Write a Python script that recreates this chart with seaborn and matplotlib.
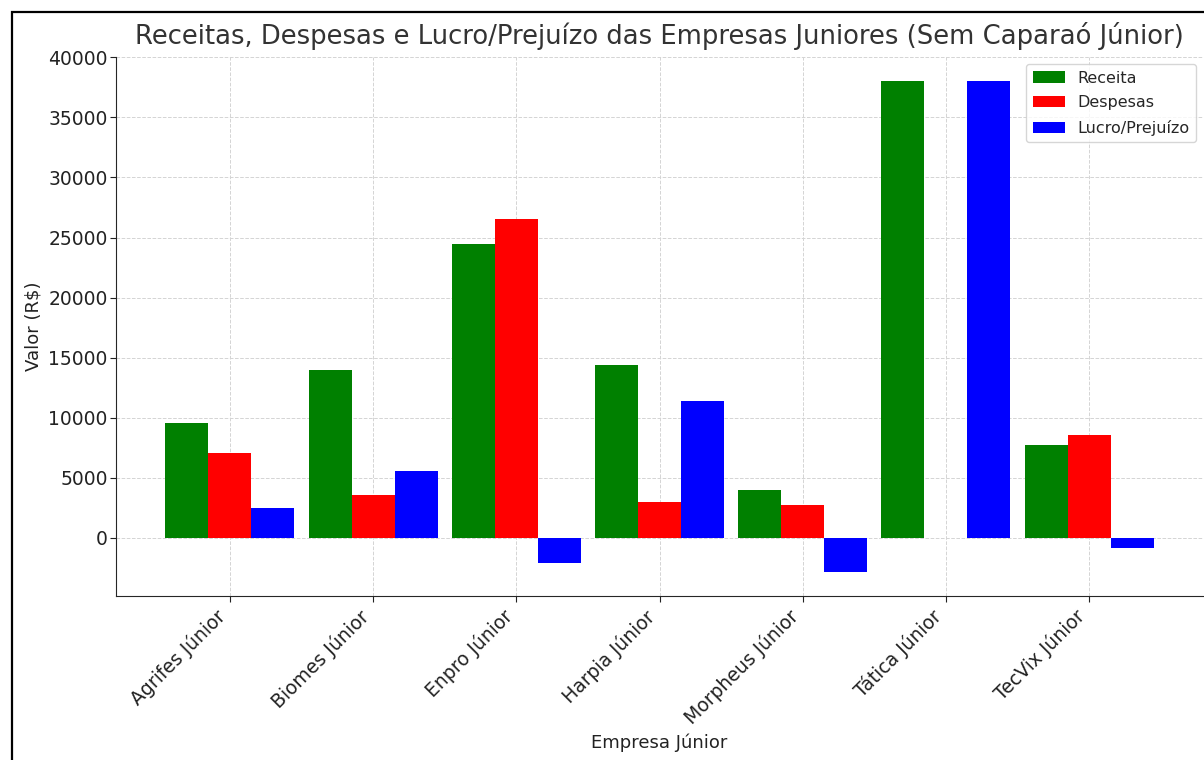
import pandas as pd
import matplotlib
matplotlib.use('Agg')
import matplotlib.pyplot as plt
from matplotlib.patches import Rectangle
import seaborn as sns

# valores (R$)
empresas = ['Agrifes Júnior', 'Biomes Júnior', 'Enpro Júnior', 'Harpia Júnior',
            'Morpheus Júnior', 'Tática Júnior', 'TecVix Júnior']
receita = [9570, 13960, 24480, 14390, 3970, 38000, 7730]
despesas = [7080, 3580, 26530, 2950, 2750, 0, 8560]
lucro = [2460, 5540, -2110, 11390, -2830, 38000, -900]

series = ['Receita', 'Despesas', 'Lucro/Prejuízo']
cores = ['green', 'red', 'blue']

df = pd.DataFrame({'Empresa Júnior': empresas * 3,
                   'Valor': receita + despesas + lucro,
                   'Tipo': [s for s in series for _ in empresas]})

sns.set_style('ticks')
plt.rcParams['font.family'] = ['DejaVu Sans']

fig = plt.figure(figsize=(12.04, 7.6), dpi=100)
ax = fig.add_axes([116 / 1204, 164 / 760, 1087 / 1204, 539 / 760])

sns.barplot(data=df, x='Empresa Júnior', y='Valor', hue='Tipo',
            palette=cores, width=0.9, linewidth=0, saturation=1, ax=ax)

ax.set_xlim(-0.795, 6.795)
ax.set_ylim(-4870, 40040)
ax.grid(True, linestyle='--', color='#d4d4d4', linewidth=0.7)
ax.set_axisbelow(True)
sns.despine(ax=ax)

ax.set_title('Receitas, Despesas e Lucro/Prejuízo das Empresas Juniores (Sem Caparaó Júnior)',
             fontsize=18.65, color='#333333', pad=9)
ax.set_xlabel('Empresa Júnior', fontsize=13, color='#222222', labelpad=4)
ax.set_ylabel('Valor (R$)', fontsize=13, color='#222222')
ax.tick_params(axis='both', labelsize=13.5, colors='#222222', length=4)
ax.tick_params(axis='y', pad=2)
plt.setp(ax.get_xticklabels(), rotation=45, ha='right', rotation_mode='default')

leg = ax.legend(loc='upper right', fontsize=11.5, title=None, frameon=True, fancybox=True,
                labelspacing=0.6, borderaxespad=0.45)
leg.get_frame().set_edgecolor('#cccccc')

# moldura preta
fig.patches.append(Rectangle((12 / 1204, -0.1), 1.2, 1.1 - 12 / 760, transform=fig.transFigure,
                             fill=False, edgecolor='black', linewidth=1.6))

fig.savefig('out.png', dpi=100)
